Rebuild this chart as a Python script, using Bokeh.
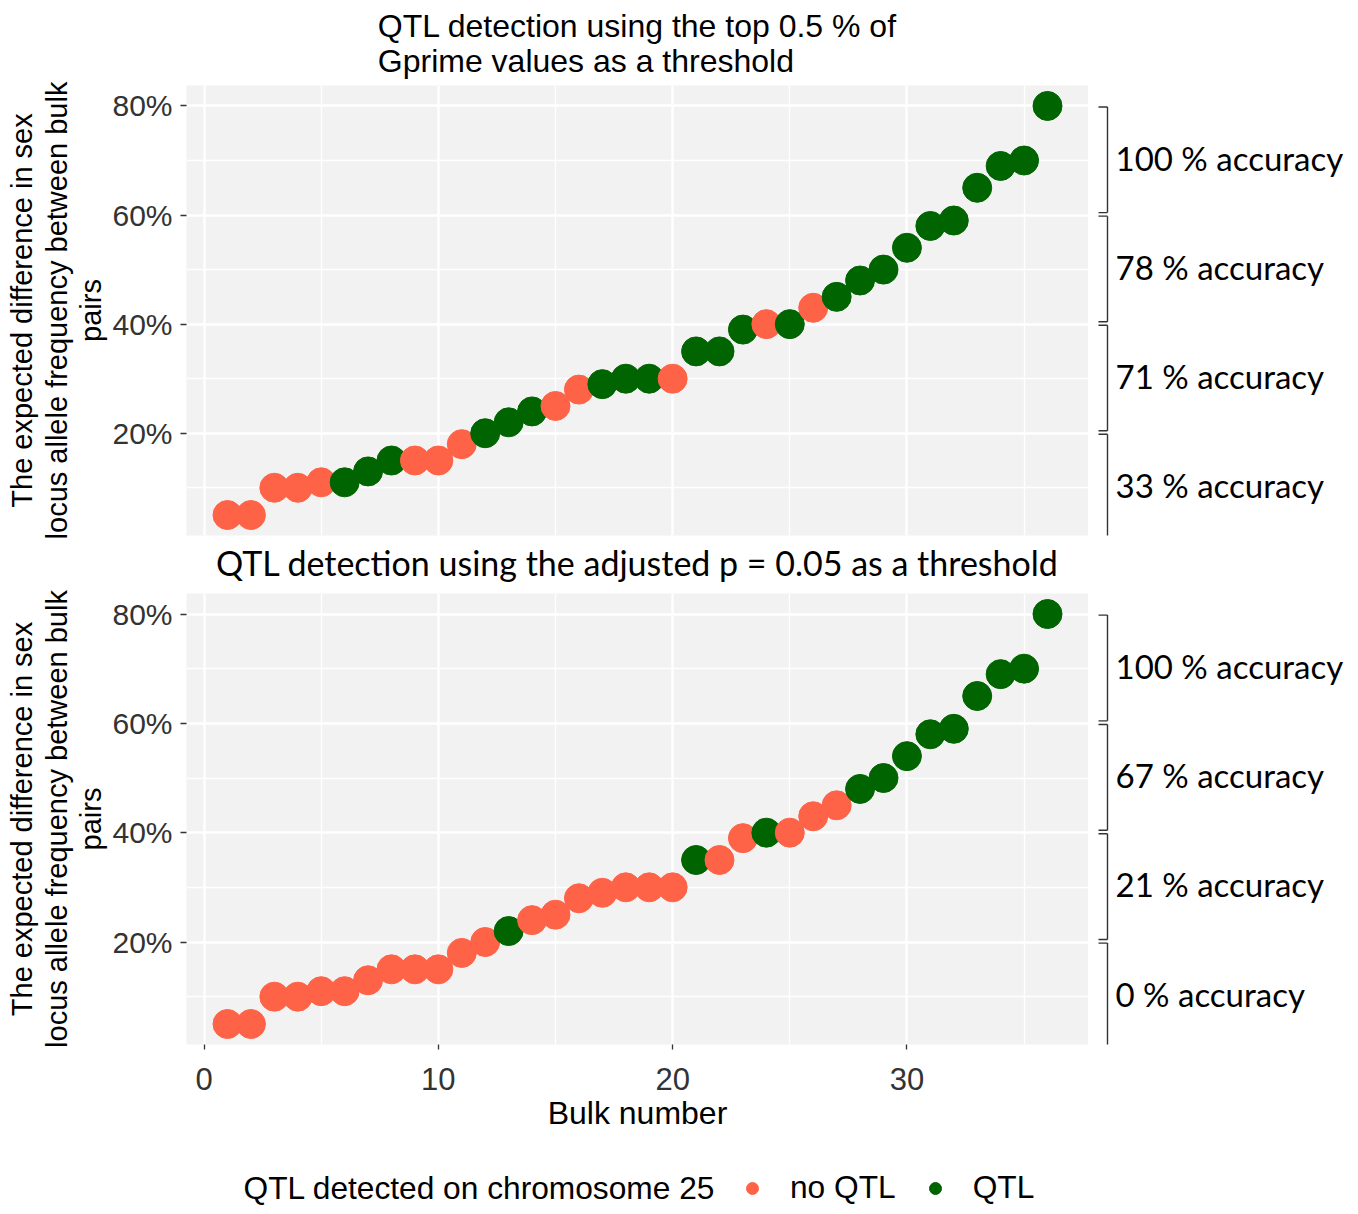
from bokeh.plotting import figure
from bokeh.models import Range1d, FixedTicker, ColumnDataSource, Legend, LegendItem, Title
from bokeh.layouts import column, row
from bokeh.transform import factor_cmap
from bokeh.embed import file_html
from bokeh.resources import INLINE
from bokeh.core.properties import value

# ---------------- data ----------------
bulk = list(range(1, 37))
expected_diff = [5, 5, 10, 10, 11, 11, 13, 15, 15, 15, 18, 20, 22, 24, 25, 28, 29, 30,
                 30, 30, 35, 35, 39, 40, 40, 43, 45, 48, 50, 54, 58, 59, 65, 69, 70, 80]
N, Q = "no QTL", "QTL"
qtl_gprime = [N, N, N, N, N, Q, Q, Q, N, N, N, Q, Q, Q, N, N, Q, Q,
              Q, N, Q, Q, Q, N, Q, N, Q, Q, Q, Q, Q, Q, Q, Q, Q, Q]
qtl_padj = [N, N, N, N, N, N, N, N, N, N, N, N, Q, N, N, N, N, N,
            N, N, Q, N, N, Q, N, N, N, Q, Q, Q, Q, Q, Q, Q, Q, Q]
categories = [N, Q]
palette = ["#FF6347", "#006400"]

bin_low = [0, 20, 40, 60]
bin_high = [20, 40, 60, 80]
acc_gprime = ["33 % accuracy", "71 % accuracy", "78 % accuracy", "100 % accuracy"]
acc_padj = ["0 % accuracy", "21 % accuracy", "67 % accuracy", "100 % accuracy"]

y_ticks = [20, 40, 60, 80]
y_minor = [10, 30, 50, 70]
y_labels = ["20%", "40%", "60%", "80%"]
x_ticks = [0, 10, 20, 30]
x_minor = [5, 15, 25, 35]

title_top = "QTL detection using the top 0.5 % of\nGprime values as a threshold"
title_bottom = "QTL detection using the adjusted p = 0.05 as a threshold"
y_label = "The expected difference in sex\nlocus allele frequency between bulk\npairs"
x_label = "Bulk number"
legend_title = "QTL detected on chromosome 25"

SANS = "Liberation Sans"
CAL = "Lato"
LEFT_B = 186
MAIN_W = LEFT_B + 902
RIGHT_W = 262
FRAME_H = 451


def main_panel(status, border_top, border_bottom, show_x, with_title):
    kw = {} if with_title else {"title_location": None}
    p = figure(width=MAIN_W, height=border_top + FRAME_H + border_bottom,
               x_range=Range1d(-0.75, 37.75), y_range=Range1d(1.25, 83.75),
               output_backend="svg", toolbar_location=None,
               min_border_left=LEFT_B, min_border_right=0,
               min_border_top=border_top, min_border_bottom=border_bottom, **kw)
    p.background_fill_color = "#F2F2F2"
    p.border_fill_color = "white"
    p.outline_line_color = None

    xt = FixedTicker(ticks=x_ticks, minor_ticks=x_minor)
    yt = FixedTicker(ticks=y_ticks, minor_ticks=y_minor)
    p.xaxis.ticker = xt
    p.yaxis.ticker = yt
    p.xgrid.ticker = xt
    p.ygrid.ticker = yt
    for g in (p.xgrid, p.ygrid):
        g.grid_line_color = "white"
        g.grid_line_width = 2.4
        g.minor_grid_line_color = "white"
        g.minor_grid_line_width = 1.3

    for ax in (p.xaxis, p.yaxis):
        ax.axis_line_color = None
        ax.minor_tick_line_color = None
        ax.major_tick_line_color = "#333333"
        ax.major_tick_line_width = 1.3
        ax.major_tick_in = 0

    p.yaxis.major_tick_out = 6
    p.yaxis.major_label_overrides = {t: l for t, l in zip(y_ticks, y_labels)}
    p.yaxis.major_label_text_font = SANS
    p.yaxis.major_label_text_font_size = "30px"
    p.yaxis.major_label_text_color = "#333333"
    p.yaxis.major_label_standoff = 8
    p.yaxis.axis_label = y_label
    p.yaxis.axis_label_text_font = SANS
    p.yaxis.axis_label_text_font_size = "29px"
    p.yaxis.axis_label_text_font_style = "normal"
    p.yaxis.axis_label_text_color = "black"
    p.yaxis.axis_label_text_line_height = 1.08
    p.yaxis.axis_label_standoff = 2

    if show_x:
        p.xaxis.major_tick_out = 5
        p.xaxis.major_label_text_font = SANS
        p.xaxis.major_label_text_font_size = "31px"
        p.xaxis.major_label_text_color = "#333333"
        p.xaxis.major_label_standoff = 18
        p.xaxis.axis_label = x_label
        p.xaxis.axis_label_text_font = SANS
        p.xaxis.axis_label_text_font_size = "32px"
        p.xaxis.axis_label_text_font_style = "normal"
        p.xaxis.axis_label_text_color = "black"
        p.xaxis.axis_label_standoff = 2
    else:
        p.xaxis.visible = False

    src = ColumnDataSource(dict(bulk=bulk, diff=expected_diff, status=status))
    cmap = factor_cmap("status", palette, categories)
    p.scatter("bulk", "diff", source=src, size=29, fill_color=cmap, line_color=cmap)
    return p


def side_panel(y_range, labels, border_top, border_bottom):
    p = figure(width=RIGHT_W, height=border_top + FRAME_H + border_bottom,
               x_range=Range1d(0, RIGHT_W), y_range=y_range,
               output_backend="svg", toolbar_location=None,
               x_axis_location=None, y_axis_location=None, title_location=None,
               min_border_left=0, min_border_right=0,
               min_border_top=border_top, min_border_bottom=border_bottom)
    p.grid.visible = False
    p.outline_line_color = None
    p.background_fill_color = "white"
    tops = [h - 0.2 for h in bin_high]
    bots = [l + 0.45 for l in bin_low]
    mids = [(l + h) / 2 for l, h in zip(bin_low, bin_high)]
    n = len(bin_low)
    p.segment(x0=[19] * n, y0=bots, x1=[19] * n, y1=tops, line_color="#333333", line_width=1.4)
    p.segment(x0=[10] * n, y0=tops, x1=[19] * n, y1=tops, line_color="#333333", line_width=1.4)
    p.segment(x0=[10] * n, y0=bots, x1=[19] * n, y1=bots, line_color="#333333", line_width=1.4)
    p.text(x=[27] * n, y=mids, text=labels, text_baseline="middle", text_align="left",
           y_offset=-3, text_font=value(CAL), text_font_size="33px", text_color="black")
    return p


TOP_BT, TOP_BB = 84, 51
BOT_BT, BOT_BB = 7, 108

top_main = main_panel(qtl_gprime, TOP_BT, TOP_BB, False, True)
top_main.title.text = title_top
top_main.title.align = "center"
top_main.title.text_font = SANS
top_main.title.text_font_size = "32px"
top_main.title.text_font_style = "normal"
top_main.title.text_color = "black"
top_main.title.text_line_height = 0.98
top_main.title.standoff = 12

# title of the lower panel, set in the gap between the two panels
top_main.add_layout(Title(text=title_bottom, align="center", text_font=CAL,
                          text_font_size="34px", text_font_style="normal",
                          text_color="black", standoff=8), "below")

top_side = side_panel(top_main.y_range, acc_gprime, TOP_BT, TOP_BB)
bot_main = main_panel(qtl_padj, BOT_BT, BOT_BB, True, False)
bot_side = side_panel(bot_main.y_range, acc_padj, BOT_BT, BOT_BB)

# legend strip
LEG_H = 58
LEG_W = MAIN_W + RIGHT_W
leg = figure(width=LEG_W, height=LEG_H,
             x_range=Range1d(0, LEG_W), y_range=Range1d(0, LEG_H),
             output_backend="svg", toolbar_location=None,
             x_axis_location=None, y_axis_location=None, title_location=None,
             min_border_left=0, min_border_right=0, min_border_top=0, min_border_bottom=0)
leg.grid.visible = False
leg.outline_line_color = None
leg.text(x=[243], y=[23], text=[legend_title], text_baseline="middle", text_align="left",
         text_font=value(SANS), text_font_size="31.7px", text_color="black")
items = []
for cat, col in zip(categories, palette):
    xs = [b for b, s in zip(bulk, qtl_padj) if s == cat]
    ys = [d for d, s in zip(expected_diff, qtl_padj) if s == cat]
    r = leg.scatter(x=xs, y=ys, size=12, fill_color=col, line_color=col)
    r.visible = False
    items.append(LegendItem(label=cat, renderers=[r]))
legend = Legend(items=items, orientation="horizontal", location=(732, 4),
                glyph_width=40, glyph_height=30, label_standoff=18, spacing=19,
                padding=0, margin=0, border_line_color=None, background_fill_alpha=0,
                label_text_font=SANS, label_text_font_size="31.7px", label_height=30,
                label_text_baseline="middle", label_text_color="black",
                click_policy="none")
leg.add_layout(legend)

layout = column(row(top_main, top_side), row(bot_main, bot_side), leg)

open("out.html", "w").write(file_html(layout, INLINE))
